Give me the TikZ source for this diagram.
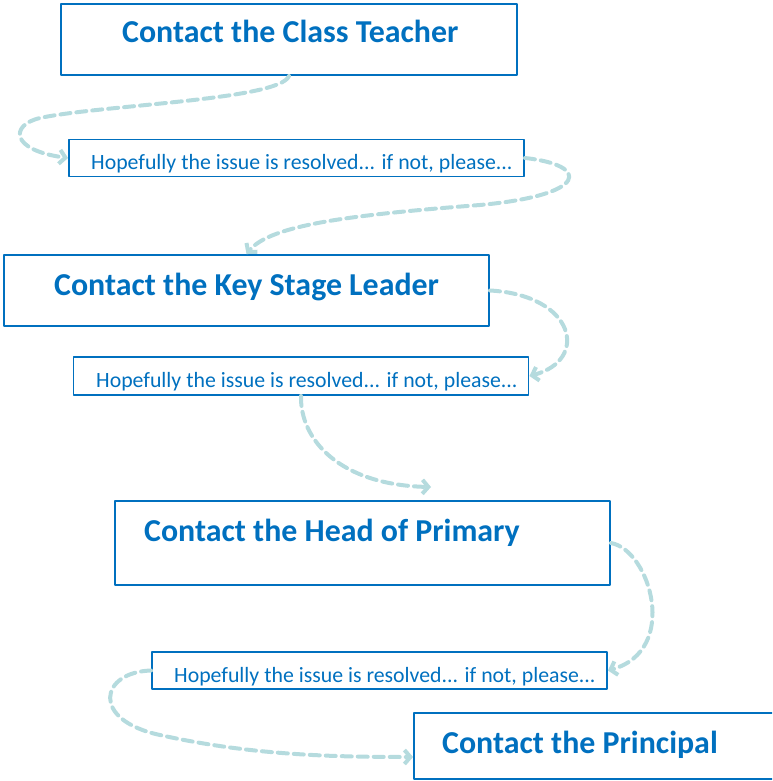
\documentclass[tikz,border=0pt]{standalone}
\usepackage{fontspec}
\setmainfont{Carlito}
\usetikzlibrary{arrows.meta}
\definecolor{stepblue}{rgb}{0,0.44,0.75}
\definecolor{paleteal}{rgb}{0.71,0.86,0.87}
\tikzset{
	bigbox/.style={draw=stepblue,line width=1.9pt,rectangle,inner sep=0pt},
	hopebox/.style={draw=stepblue,line width=1.9pt,rectangle,inner sep=0pt,minimum width=455pt},
	hopetxt/.style={text=stepblue,inner sep=0pt,anchor=base west,font=\fontsize{21.8}{26}\selectfont},
	bigtxt/.style={text=stepblue,inner sep=0pt,anchor=base west,font=\fontsize{31.9}{38}\selectfont\bfseries},
	flow/.style={color=paleteal,line width=4pt,dash pattern=on 10pt off 6pt,-{Straight Barb[length=6pt,width=14pt]}}
}
\begin{document}
\begin{tikzpicture}[line cap=round,line join=round,x=1pt,y=-1pt]
	\useasboundingbox (0,0) rectangle (772,781);
	\clip (0,0) rectangle (772,781);
	% boxes
	\node[bigbox,minimum width=456pt,minimum height=71pt] (teacher) at (289,39.5) {};
	\node[bigbox,minimum width=485pt,minimum height=71pt] (kslead) at (246.5,290.5) {};
	\node[bigbox,minimum width=495pt,minimum height=84pt] (hop) at (362.5,543) {};
	\node[bigbox,minimum width=386pt,minimum height=66pt] (principal) at (607,746) {};
	\node[hopebox,minimum height=37pt] (hope1) at (296.5,158) {};
	\node[hopebox,minimum height=38pt] (hope2) at (301,376) {};
	\node[hopebox,minimum height=37pt] (hope3) at (379.5,670.5) {};
	% texts
	\node[bigtxt] (teachertxt) at (122,43) {Contact the Class Teacher};
	\node[bigtxt] (ksleadtxt) at (54,295) {Contact the Key Stage Leader};
	\node[bigtxt] (hoptxt) at (144,541) {Contact the Head of Primary};
	\node[bigtxt] (principaltxt) at (442,753) {Contact the Principal};
	\node[hopetxt] (hope1txt) at (91,169) {Hopefully the issue is resolved... if not, please...};
	\node[hopetxt] (hope2txt) at (96,387) {Hopefully the issue is resolved... if not, please...};
	\node[hopetxt] (hope3txt) at (174,682) {Hopefully the issue is resolved... if not, please...};
	\coordinate (tipfour) at (431,487);
	% arrows
	\draw[flow] (teacher.south) .. controls (280,100) and (100,105) .. (40,118) .. controls (10,125) and (10,150) .. (hope1.west);
	\draw[flow] (hope1.east) .. controls (590,165) and (590,195) .. (480,205) .. controls (350,215) and (270,225) .. (kslead.north);
	\draw[flow] (kslead.east) .. controls (575,295) and (590,360) .. (hope2.east);
	\draw[flow] (hope2.south) .. controls (300,440) and (340,485) .. (tipfour);
	\draw[flow] (hop.east) .. controls (650,550) and (680,650) .. (hope3.east);
	\draw[flow] (hope3.west) .. controls (100,672) and (90,720) .. (160,735) .. controls (250,755) and (330,757) .. ([yshift=-11pt]principal.west);
\end{tikzpicture}
\end{document}
